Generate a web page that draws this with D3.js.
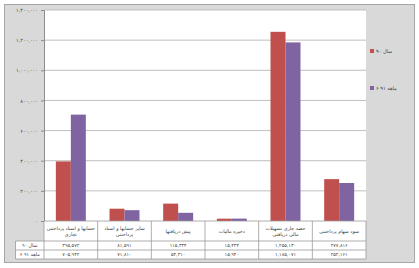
<!DOCTYPE html>
<html><head><meta charset="utf-8">
<script src="https://cdn.jsdelivr.net/npm/d3@7"></script>
<style>html,body{margin:0;padding:0;background:#fff}svg{display:block}</style>
</head><body>
<script>
const categories = [
  ["حسابها و اسناد پرداختنی", "تجاری"],
  ["سایر حسابها و اسناد", "پرداختنی"],
  ["پیش دریافتها"],
  ["ذخیره مالیات"],
  ["حصه جاری تسهیلات", "مالی دریافتی"],
  ["سود سهام پرداختنی"]
];
const seriesNames = ["سال ۹۰", "۶ ماهه ۹۱"];
const values90 = [395572, 81591, 115334, 15434, 1255130, 277816];
const values91 = [705942, 71810, 54310, 15940, 1185071, 252161];
const yTicks = [0, 200000, 400000, 600000, 800000, 1000000, 1200000, 1400000];
const colors = ["#C0504D", "#8064A2"];

(function () {
const W = 419, H = 268;
const fa = s => String(s).replace(/\d/g, d => "۰۱۲۳۴۵۶۷۸۹"[d]);
const fmt = v => fa(d3.format(",")(v));
const FONT = "DejaVu Sans, sans-serif";

const svg = d3.select("body").append("svg").attr("width", W).attr("height", H);
svg.append("rect").attr("x", 4.5).attr("y", 4.5).attr("width", 410).attr("height", 258)
  .attr("fill", "#d9d9d9").attr("stroke", "#a6a6a6");

const pL = 44, pR = 366, pT = 10, pB = 221;
const idx = categories.map((c, i) => i);
const x = d3.scaleBand().domain(idx).range([pL, pR]).padding(0);
const xs = d3.scaleBand().domain([0, 1]).range([0, x.bandwidth()]).paddingInner(0).paddingOuter(0.79);
const y = d3.scaleLinear().domain([0, 1400000]).range([pB, pT]);

svg.append("rect").attr("x", pL).attr("y", pT).attr("width", pR - pL).attr("height", pB - pT)
  .attr("fill", "#fff");

svg.append("g").selectAll("line").data(yTicks.slice(1)).join("line")
  .attr("x1", pL).attr("x2", pR).attr("y1", d => y(d)).attr("y2", d => y(d))
  .attr("stroke", "#bfbfbf").attr("stroke-width", 1);

const yAxis = svg.append("g").attr("transform", `translate(${pL},0)`)
  .call(d3.axisLeft(y).tickValues(yTicks).tickFormat(fmt).tickSize(3).tickPadding(3));
yAxis.select(".domain").attr("stroke", "#8c8c8c");
yAxis.selectAll(".tick line").attr("stroke", "#8c8c8c");
yAxis.selectAll("text").attr("font-family", FONT).attr("font-size", 5).attr("fill", "#404040");

const series = [values90, values91];
series.forEach((vals, s) => {
  svg.append("g").selectAll("rect").data(vals).join("rect")
    .attr("x", (d, i) => x(i) + xs(s))
    .attr("width", xs.bandwidth())
    .attr("y", d => y(d))
    .attr("height", d => y(0) - y(d))
    .attr("fill", colors[s]);
});

const tLeft = 15.5, r0 = pB, r1 = 241, r2 = 250, r3 = 259;
const tg = svg.append("g");
const stroke = "#9a9a9a";
tg.append("rect").attr("x", pL).attr("y", r0).attr("width", pR - pL).attr("height", r1 - r0)
  .attr("fill", "#fff");
tg.append("rect").attr("x", tLeft).attr("y", r1).attr("width", pR - tLeft).attr("height", r3 - r1)
  .attr("fill", "#fff");
[r0, r1, r2, r3].forEach(yy => {
  tg.append("line").attr("x1", yy === r0 ? pL : tLeft).attr("x2", pR)
    .attr("y1", yy).attr("y2", yy).attr("stroke", stroke).attr("stroke-width", 0.8);
});
idx.forEach(i => {
  tg.append("line").attr("x1", x(i)).attr("x2", x(i)).attr("y1", r0).attr("y2", r3)
    .attr("stroke", stroke).attr("stroke-width", 0.8);
});
tg.append("line").attr("x1", pR).attr("x2", pR).attr("y1", r0).attr("y2", r3).attr("stroke", stroke).attr("stroke-width", 0.8);
tg.append("line").attr("x1", tLeft).attr("x2", tLeft).attr("y1", r1).attr("y2", r3).attr("stroke", stroke).attr("stroke-width", 0.8);

categories.forEach((lines, i) => {
  const cx = x(i) + x.bandwidth() / 2;
  const n = lines.length;
  lines.forEach((t, k) => {
    tg.append("text").attr("x", cx).attr("y", (r0 + r1) / 2 + (k - (n - 1) / 2) * 6.5 + 1.8)
      .attr("text-anchor", "middle").attr("font-family", FONT).attr("font-size", 4.8)
      .attr("fill", "#404040").text(t);
  });
});
series.forEach((vals, s) => {
  const yy = (s === 0 ? (r1 + r2) / 2 : (r2 + r3) / 2) + 1.8;
  vals.forEach((v, i) => {
    tg.append("text").attr("x", x(i) + x.bandwidth() / 2).attr("y", yy)
      .attr("text-anchor", "middle").attr("font-family", FONT).attr("font-size", 4.8)
      .attr("fill", "#404040").text(fmt(v));
  });
  tg.append("text").attr("x", (tLeft + pL) / 2).attr("y", yy)
    .attr("text-anchor", "middle").attr("font-family", FONT).attr("font-size", 4.8)
    .attr("fill", "#404040").text(seriesNames[s]);
});

const legY = [51, 88];
seriesNames.forEach((nm, s) => {
  svg.append("rect").attr("x", 370).attr("y", legY[s] - 2).attr("width", 4).attr("height", 4)
    .attr("fill", colors[s]);
  svg.append("text").attr("x", 376).attr("y", legY[s] + 1.8).attr("font-family", FONT)
    .attr("font-size", 5).attr("fill", "#404040").text(nm);
});
})();
</script>
</body></html>
